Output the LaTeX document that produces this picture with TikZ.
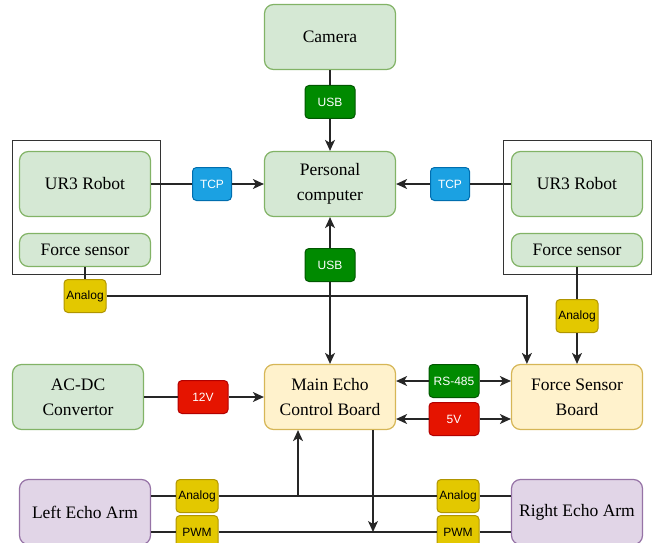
\documentclass[tikz,border=0pt]{standalone}
\usepackage{fontspec}
\setmainfont{Liberation Serif}
\newfontfamily\tagfont{Liberation Sans}
\usetikzlibrary{arrows.meta}

\definecolor{grnfill}{HTML}{D5E8D4}
\definecolor{grnline}{HTML}{82B366}
\definecolor{ylwfill}{HTML}{FFF2CC}
\definecolor{ylwline}{HTML}{D6B656}
\definecolor{prpfill}{HTML}{E1D5E7}
\definecolor{prpline}{HTML}{9673A6}
\definecolor{usbfill}{HTML}{008A00}
\definecolor{usbline}{HTML}{005700}
\definecolor{tcpfill}{HTML}{1BA1E2}
\definecolor{tcpline}{HTML}{006EAF}
\definecolor{pwrfill}{HTML}{E51400}
\definecolor{pwrline}{HTML}{B20000}
\definecolor{sigfill}{HTML}{E3C800}
\definecolor{sigline}{HTML}{B09500}

\tikzset{
	block/.style={rounded corners=9pt, line width=1.2pt, minimum width=131pt, minimum height=65pt,
		align=center, inner sep=2pt, font=\fontsize{17.5}{25}\selectfont},
	blockG/.style={block, draw=grnline, fill=grnfill},
	blockY/.style={block, draw=ylwline, fill=ylwfill},
	blockP/.style={block, draw=prpline, fill=prpfill},
	tag/.style={rounded corners=4pt, line width=1pt, minimum width=50pt, minimum height=33pt,
		inner sep=1pt, font=\tagfont\fontsize{12}{14}\selectfont},
	tagUSB/.style={tag, draw=usbline, fill=usbfill, text=white},
	tagTCP/.style={tag, draw=tcpline, fill=tcpfill, text=white, minimum width=39pt},
	tagPWR/.style={tag, draw=pwrline, fill=pwrfill, text=white},
	tagSIG/.style={tag, draw=sigline, fill=sigfill, text=black, minimum width=42pt},
	wire/.style={line width=1.4pt, black!85},
	arr/.style={wire, -{Stealth[length=11pt, width=10pt, inset=3pt]}},
}

\begin{document}
\begin{tikzpicture}[x=1pt, y=-1pt]
		%%%%% START %%%%%
		\clip (0, 0) rectangle (662, 543);
		
		% robot frames
		\draw[line width=0.8pt, black!80] (12, 140) rectangle (160, 274);
		\draw[line width=0.8pt, black!80] (503, 140) rectangle (651, 274);
		
		% blocks
		\node[blockG] (cam) at (330, 37) {Camera};
		\node[blockG] (pc) at (330, 184) {Personal\\computer};
		\node[blockG] (ur3L) at (85, 184) {UR3 Robot};
		\node[blockG, minimum height=33pt] (fsL) at (85, 250) {Force sensor};
		\node[blockG] (ur3R) at (577, 184) {UR3 Robot};
		\node[blockG, minimum height=33pt] (fsR) at (577, 250) {Force sensor};
		\node[blockG] (acdc) at (78, 397) {AC-DC\\Convertor};
		\node[blockY] (main) at (330, 397) {Main Echo\\Control Board};
		\node[blockY] (fsb) at (577, 397) {Force Sensor\\Board};
		\node[blockP] (armL) at (85, 512) {Left Echo Arm};
		\node[blockP] (armR) at (577, 512) {Right Echo Arm};
		
		% link tags
		\node[tagUSB] (usbA) at (330, 102) {USB};
		\node[tagUSB] (usbB) at (330, 265) {USB};
		\node[tagTCP] (tcpL) at (212, 184) {TCP};
		\node[tagTCP] (tcpR) at (450, 184) {TCP};
		\node[tagSIG] (anaL) at (85, 296) {Analog};
		\node[tagSIG] (anaR) at (577, 316) {Analog};
		\node[tagPWR] (v12) at (203, 397) {12V};
		\node[tagUSB] (rs) at (454, 381) {RS-485};
		\node[tagPWR] (v5) at (454, 419) {5V};
		\node[tagSIG] (anaBL) at (197, 496) {Analog};
		\node[tagSIG] (anaBR) at (458, 496) {Analog};
		\node[tagSIG] (pwmL) at (197, 532) {PWM};
		\node[tagSIG] (pwmR) at (458, 532) {PWM};
		
		% camera and robots to pc
		\draw[wire] (cam) -- (usbA);
		\draw[arr] (usbA) -- (pc);
		\draw[wire] (ur3L) -- (tcpL);
		\draw[arr] (tcpL) -- (pc);
		\draw[wire] (ur3R) -- (tcpR);
		\draw[arr] (tcpR) -- (pc);
		\draw[arr] (usbB) -- (pc);
		\draw[arr] (usbB) -- (main);
		
		% force sensors
		\draw[wire] (fsL) -- (anaL);
		\draw[arr] (anaL) -| ([xshift=16pt]fsb.north west);
		\draw[wire] (fsR) -- (anaR);
		\draw[arr] (anaR) -- (fsb);
		
		% power and bus
		\draw[wire] (acdc) -- (v12);
		\draw[arr] (v12) -- (main);
		\draw[arr] (rs) -- (main.east |- rs);
		\draw[arr] (rs) -- (fsb.west |- rs);
		\draw[arr] (v5) -- (main.east |- v5);
		\draw[arr] (v5) -- (fsb.west |- v5);
		
		% echo arms
		\coordinate (tapA) at (298, 496);
		\coordinate (tapP) at (373, 532);
		\draw[wire] (armL.east |- anaBL) -- (anaBL);
		\draw[wire] (anaBL) -- (anaBR);
		\draw[wire] (anaBR) -- (armR.west |- anaBR);
		\draw[wire] (armL.east |- pwmL) -- (pwmL);
		\draw[wire] (pwmL) -- (pwmR);
		\draw[wire] (pwmR) -- (armR.west |- pwmR);
		\draw[arr] (tapA) -- (main.south -| tapA);
		\draw[arr] (main.south -| tapP) -- (tapP);
		
		%%%%% END %%%%%
	\end{tikzpicture}
\end{document}
